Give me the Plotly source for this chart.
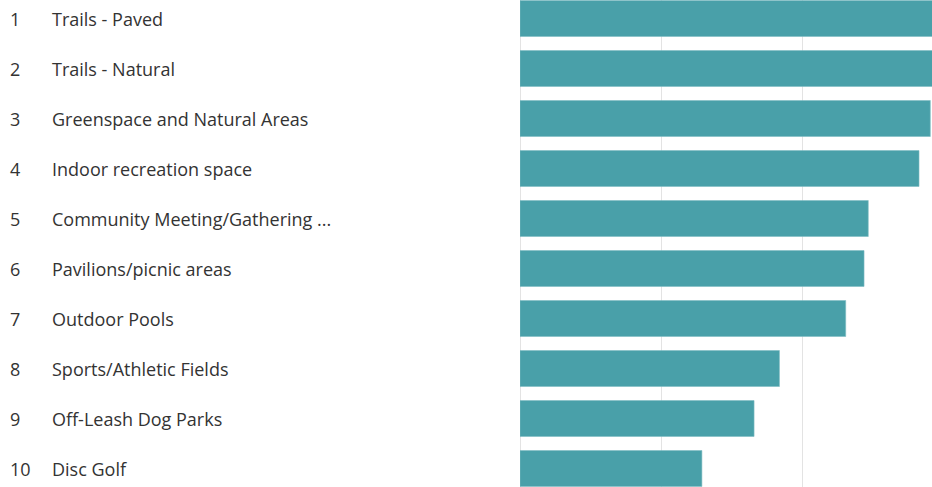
import plotly.graph_objects as go

ranks = ["1", "2", "3", "4", "5", "6", "7", "8", "9", "10"]
amenities = [
    "Trails - Paved",
    "Trails - Natural",
    "Greenspace and Natural Areas",
    "Indoor recreation space",
    "Community Meeting/Gathering ...",
    "Pavilions/picnic areas",
    "Outdoor Pools",
    "Sports/Athletic Fields",
    "Off-Leash Dog Parks",
    "Disc Golf",
]
scores = [3.02, 2.96, 2.91, 2.83, 2.47, 2.44, 2.31, 1.84, 1.66, 1.29]

W, H = 932, 487
LEFT = 520
plot_w = W - LEFT

fig = go.Figure()
fig.add_trace(go.Bar(
    x=scores,
    y=amenities,
    orientation="h",
    marker=dict(color="#49A0A9", line=dict(color="#7fbcc3", width=0.6)),
    width=0.72,
    hoverinfo="x+y",
))

txt_font = dict(family="Open Sans, Noto Sans, sans-serif", size=18, color="#333333")
for rank, name in zip(ranks, amenities):
    fig.add_annotation(x=(8 - LEFT) / plot_w, xref="paper", y=name, yref="y",
                       text=rank, showarrow=False, xanchor="left", yanchor="middle",
                       font=txt_font)
    fig.add_annotation(x=(50 - LEFT) / plot_w, xref="paper", y=name, yref="y",
                       text=name, showarrow=False, xanchor="left", yanchor="middle",
                       font=txt_font)

fig.update_xaxes(range=[0, plot_w / 141], dtick=1, showgrid=True, gridcolor="#e3e3e3",
                 gridwidth=1, zeroline=True, zerolinecolor="#e3e3e3", zerolinewidth=1,
                 showticklabels=False, showline=False, fixedrange=True)
fig.update_yaxes(type="category", categoryorder="array", categoryarray=amenities,
                 range=[9.37, -0.37], showticklabels=False, showgrid=False,
                 zeroline=False, showline=False, fixedrange=True)

fig.update_layout(
    width=W, height=H,
    margin=dict(l=LEFT, r=0, t=0, b=0),
    plot_bgcolor="white", paper_bgcolor="white",
    showlegend=False,
)

# page body has a default 8px margin; drop it so the figure fills the window
fig.write_html("out.html", config={"displayModeBar": False},
               post_script="document.body.style.margin='0';")
